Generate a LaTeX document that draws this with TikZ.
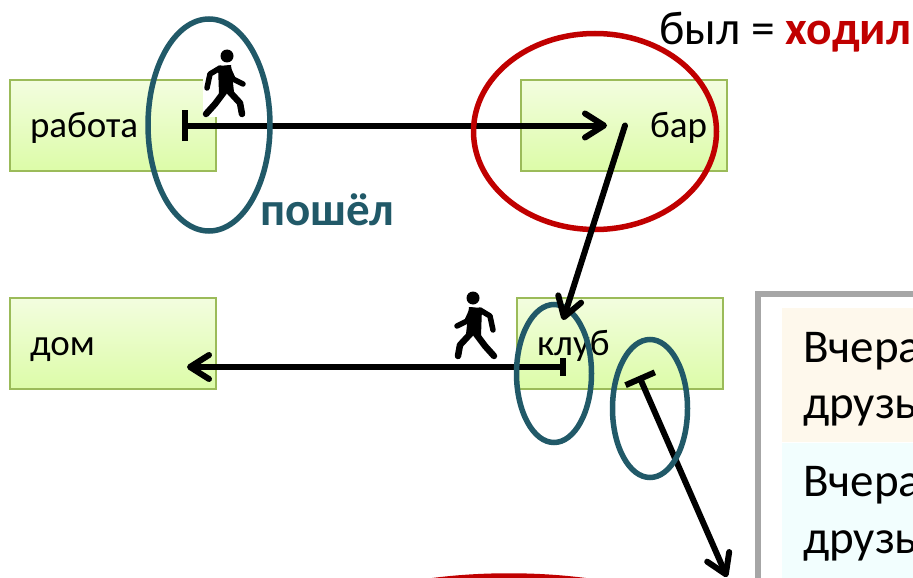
\documentclass[tikz,border=0pt]{standalone}
\usepackage{fontspec}
\setmainfont{Carlito}
\usetikzlibrary{arrows.meta,positioning,shapes.geometric}
\definecolor{tealring}{HTML}{215968}
\definecolor{redring}{HTML}{C00000}
\definecolor{boxline}{HTML}{9BBB59}
\definecolor{boxtop}{HTML}{F3FDDF}
\definecolor{boxbottom}{HTML}{DCFCA8}
\definecolor{panelline}{HTML}{A6A6A6}
\definecolor{pastfill}{HTML}{FEF8EC}
\definecolor{gonefill}{HTML}{F2FEFE}

\begin{document}
\begin{tikzpicture}[x=1pt,y=-1pt]
        \tikzset{place/.style= {draw=boxline, line width=1.5pt, rectangle, outer sep=0pt, top color=boxtop, bottom color=boxbottom,
                minimum width=206pt, minimum height=91pt, text width=166pt, text height=28pt, text depth=4pt, inner sep=0pt, font=\fontsize{37}{40}\selectfont},
            ring/.style= {draw=tealring, line width=5.5pt, ellipse, inner sep=0pt, outer sep=0pt},
            redring/.style= {ring, draw=redring},
            move/.style= {line width=6pt, line cap=round},
            barb/.tip= {Straight Barb[length=19pt, width=24pt, round]},
            line/.style= {font=\fontsize{47}{50}\selectfont, anchor=base west, inner sep=0pt},
            walker/.pic= {
                \fill (0,0) circle (6.5);
                \draw [line width=5.5pt, line cap=round, line join=round]
                    (-7,12) -- (-17,18) -- (-20,32)
                    (1,12) -- (6,23) -- (16,28);
                \fill (-9,10) -- (4,9) -- (7,36) -- (-8,38) -- cycle;
                \draw [line width=6.5pt, line cap=round, line join=round]
                    (-3,36) -- (-12,48) -- (-21,58)
                    (1,34) -- (13,47) -- (15,58);
            }
        }
        \useasboundingbox (0,0) rectangle (913,578);

        \node [place, align=left] at (113,125.5) (work){работа};
        \node [place, align=right, right = 305pt of work] (bar){бар};
        \node [place, align=left, below = 127pt of work] (home){дом};
        \node [place, align=left, right = 301pt of home] (club){клуб};

        \fill [white] (203,79) rectangle (245,117);
        \pic at (227,56) {walker};
        \pic [xscale=-1] at (473,298) {walker};

        \node [draw=panelline, line width=5.5pt, rectangle, outer sep=0pt, minimum width=190pt, minimum height=310pt, anchor=north west] at (758,294) (panel){};
        \node [fill=pastfill, rectangle, inner sep=0pt, minimum width=140pt, minimum height=134pt, anchor=north west] at (782,308) (past){};
        \node [fill=gonefill, rectangle, inner sep=0pt, minimum width=140pt, minimum height=140pt, below = 0pt of past] (gone){};
        \node [line] at (803,362) (pastA){Вчера};
        \node [line] at (803,418) (pastB){друзь};
        \node [line] at (803,496) (goneA){Вчера};
        \node [line] at (803,553) (goneB){друзь};

        \node [line, font=\fontsize{47.5}{50}\selectfont] at (659,45) (title){был = \textcolor{redring}{\textbf{ходил}}};
        \node [line, font=\fontsize{47}{50}\selectfont\bfseries, text=tealring] at (260,225) (went){пошёл};

        \node [coordinate, right = 172pt of work.west] (workOut){};
        \node [coordinate, right = 86pt of bar.west] (barIn){};
        \node [coordinate, right = 104pt of bar.west] (barOut){};
        \node [coordinate, below right = 22pt and 46pt of club.north west] (clubIn){};
        \node [coordinate, below right = 69pt and 49pt of club.north west] (clubOut){};
        \node [coordinate, below right = 69pt and 177pt of home.north west] (homeIn){};
        \node [coordinate, below right = 78pt and 122pt of club.north west] (clubAway){};
        \node [coordinate, below right = 279pt and 210pt of club.north west] (away){};

        \draw [move, {Bar[width=31pt, line width=6pt]}-barb] (workOut) -- (barIn);
        \draw [move, {Bar[width=18pt, line width=6pt]}-barb] (clubOut) -- (homeIn);
        \draw [move, {Bar[width=32pt, line width=6pt]}-barb] (clubAway) -- (away);

        \node [ring, minimum width=122pt, minimum height=212pt] at (209,125) (start){};
        \node [redring, minimum width=243pt, minimum height=196pt] at (595,131.5) (stay){};
        \node [ring, minimum width=75pt, minimum height=138pt] at (554,373.5) (arrive){};
        \node [ring, minimum width=75pt, minimum height=138pt] at (650,408.5) (leave){};
        \node [redring, minimum width=510pt, minimum height=206pt] at (509,679) (next){};

        \draw [move, -barb] (barOut) -- (clubIn);
\end{tikzpicture}
\end{document}
